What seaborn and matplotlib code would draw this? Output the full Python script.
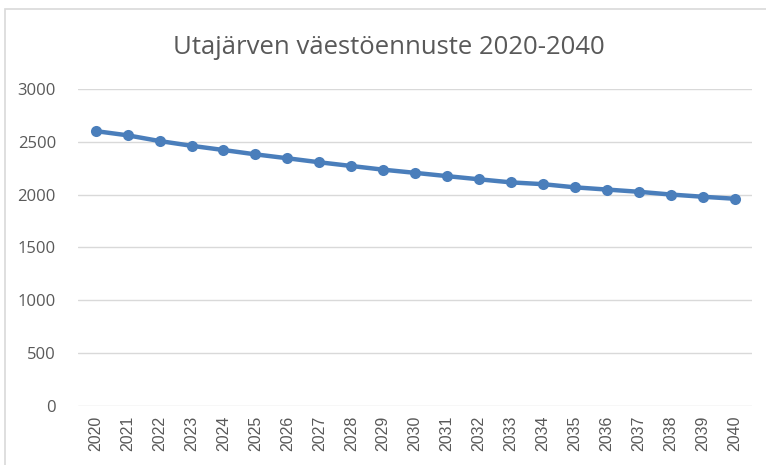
import pandas as pd
import seaborn as sns
import matplotlib.pyplot as plt
from matplotlib.patches import Rectangle

# data
years = [str(y) for y in range(2020, 2041)]
population = [2600, 2560, 2506, 2461, 2421, 2380, 2343, 2305, 2270, 2235, 2205,
              2174, 2144, 2115, 2098, 2068, 2047, 2026, 2000, 1979, 1960]
y_ticks = [0, 500, 1000, 1500, 2000, 2500, 3000]

df = pd.DataFrame({"vuosi": years, "asukkaat": population})

sns.set_style("white")
plt.rcParams['font.family'] = ['Open Sans', 'DejaVu Sans']
text_color = "#595959"
grid_color = "#d9d9d9"

fig = plt.figure(figsize=(7.66, 4.65), dpi=100)
ax = fig.add_axes([0.102, 0.127, 0.880, 0.682])

sns.lineplot(data=df, x="vuosi", y="asukkaat", ax=ax, color="#4a7ebb",
             linewidth=3.2, marker="o", markersize=8, markeredgewidth=0)

ax.set_ylim(0, 3000)
ax.set_yticks(y_ticks)
ax.set_xlim(-0.55, 20.55)
for t in y_ticks:
    ax.axhline(t, color=grid_color, linewidth=1, zorder=0)
for s in ax.spines.values():
    s.set_visible(False)
ax.tick_params(axis="x", labelrotation=90, length=0, pad=7, labelcolor=text_color)
ax.tick_params(axis="y", length=0, pad=16, labelsize=12, labelcolor=text_color)
for lbl in ax.get_xticklabels():
    lbl.set_fontfamily("Liberation Sans")
    lbl.set_fontsize(11.5)
ax.set_xlabel("")
ax.set_ylabel("")

fig.text(0.508, 0.898, "Utajärven väestöennuste 2020-2040", ha="center", va="center",
         fontsize=18.5, color=text_color)

# chart frame like the spreadsheet border
fig.patches.append(Rectangle((0.006, -0.05), 1.05, 1.03, transform=fig.transFigure,
                             fill=False, edgecolor=grid_color, linewidth=1.2))

fig.savefig("out.png", dpi=100)
